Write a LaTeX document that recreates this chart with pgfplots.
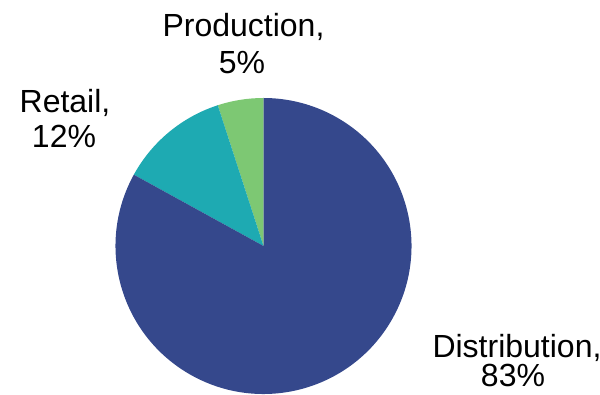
\documentclass[border=0pt]{standalone}
\usepackage{pgfplots}
\pgfplotsset{compat=1.18}
\usepackage{pgfplotstable}
\usepackage{fontspec}
\setmainfont{Liberation Sans}
\definecolor{cDist}{RGB}{53,72,140}
\definecolor{cRet}{RGB}{30,170,178}
\definecolor{cProd}{RGB}{125,200,115}
\pgfplotstableread{
label value
Production 5
Retail 12
Distribution 83
}\piedata
\begin{document}
\begin{tikzpicture}
\pgfplotstablegetelem{0}{value}\of\piedata \let\vProd\pgfplotsretval
\pgfplotstablegetelem{1}{value}\of\piedata \let\vRet\pgfplotsretval
\pgfplotstablegetelem{2}{value}\of\piedata \let\vDist\pgfplotsretval
\pgfmathsetmacro{\aA}{90}
\pgfmathsetmacro{\aB}{\aA+3.6*\vProd}
\pgfmathsetmacro{\aC}{\aB+3.6*\vRet}
\pgfmathsetmacro{\aD}{\aC+3.6*\vDist}
\begin{axis}[width=600pt,height=395pt,scale only axis,
  xmin=0,xmax=600,ymin=0,ymax=395,hide axis,clip=false]
\path[use as bounding box] (axis cs:0,0) rectangle (axis cs:600,395);
\fill[cProd] (axis cs:263.5,149) -- ++(\aA:148pt) arc[start angle=\aA,end angle=\aB,radius=148pt] -- cycle;
\fill[cRet] (axis cs:263.5,149) -- ++(\aB:148pt) arc[start angle=\aB,end angle=\aC,radius=148pt] -- cycle;
\fill[cDist] (axis cs:263.5,149) -- ++(\aC:148pt) arc[start angle=\aC,end angle=\aD,radius=148pt] -- cycle;
\tikzset{lbl/.style={anchor=base,inner sep=0pt,font=\fontsize{32}{38}\selectfont}}
\node[lbl] at (axis cs:243.5,358) {Production,};
\node[lbl] at (axis cs:242,321) {5\%};
\node[lbl] at (axis cs:65,282) {Retail,};
\node[lbl] at (axis cs:64,247) {12\%};
\node[lbl] at (axis cs:517,37) {Distribution,};
\node[lbl] at (axis cs:513,8) {83\%};
\end{axis}
\end{tikzpicture}
\end{document}
